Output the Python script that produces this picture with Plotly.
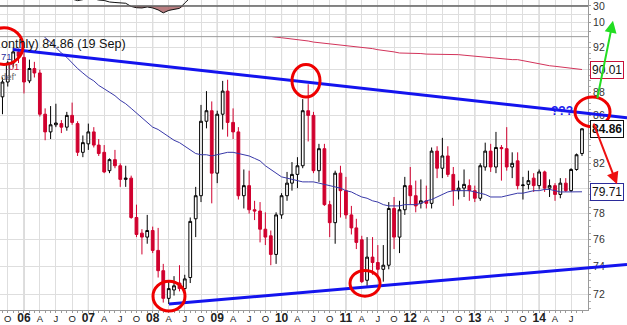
import math
import pandas as pd
import plotly.graph_objects as go

# ---------------- data (monthly candles, Sep 2005 .. Sep 2014) ----------------
months = pd.date_range("2005-09-01", "2014-09-01", freq="MS").strftime("%Y-%m-%d").tolist()

opens = [87.6, 88.9, 90.6, 91.6,
         91.1, 89.0, 90.1, 89.7, 86.1, 84.6, 85.2, 85.3, 85.0, 86.0, 85.3, 82.9,
         83.6, 84.6, 83.5, 82.9, 81.4, 82.3, 81.8, 80.7, 80.8, 77.7, 76.5, 76.2,
         76.7, 75.2, 73.7, 71.7, 72.3, 72.8, 72.4, 73.2, 77.6, 79.4, 85.5, 86.4,
         81.2, 86.1, 88.1, 85.4, 84.6, 79.4, 80.2, 78.3, 78.2, 76.8, 76.3, 74.9,
         77.9, 79.4, 80.4, 81.1, 81.8, 86.4, 86.0, 81.4, 83.2, 78.7, 77.3, 81.2,
         79.8, 77.9, 76.9, 76.0, 73.0, 74.7, 74.3, 73.8, 74.1, 78.4, 76.2, 78.3,
         80.2, 79.4, 78.8, 79.0, 78.8, 83.0, 81.6, 82.6, 81.1, 79.8, 80.0, 80.2,
         79.8, 79.2, 81.7, 83.0, 81.7, 83.3, 83.2, 81.7, 82.2, 80.2, 80.3, 80.8,
         80.2, 81.3, 80.0, 80.2, 79.5, 80.4, 79.8, 81.5, 82.8]
highs = [89.3, 90.8, 92.0, 91.9,
         91.6, 90.9, 90.7, 90.0, 86.6, 86.8, 87.0, 85.6, 86.3, 87.1, 85.5, 84.3,
         85.3, 85.0, 84.0, 83.5, 82.4, 83.1, 82.0, 81.8, 81.0, 78.7, 76.8, 77.9,
         77.0, 76.9, 74.2, 72.9, 73.3, 74.1, 73.4, 77.7, 80.1, 86.9, 88.1, 87.2,
         86.4, 89.0, 89.1, 86.6, 85.0, 81.5, 81.4, 79.0, 78.9, 78.1, 76.7, 78.1,
         79.6, 81.3, 82.1, 82.5, 87.4, 88.7, 86.3, 83.6, 83.6, 79.0, 81.4, 81.8,
         80.9, 78.6, 77.6, 76.3, 76.2, 76.2, 75.6, 75.6, 78.9, 79.3, 79.0, 80.9,
         81.7, 80.6, 80.7, 80.2, 83.3, 83.4, 84.1, 83.4, 81.7, 80.6, 81.5, 80.7,
         80.2, 82.0, 83.7, 83.6, 84.6, 83.5, 85.0, 82.9, 82.9, 80.9, 81.4, 81.2,
         81.5, 81.4, 80.7, 80.4, 80.8, 80.8, 81.6, 82.8, 84.9]
lows = [86.1, 88.5, 90.2, 90.6,
        87.9, 88.8, 89.3, 85.9, 83.9, 84.0, 85.0, 84.5, 84.7, 85.2, 82.6, 82.5,
        83.1, 83.3, 82.6, 81.2, 81.2, 81.6, 80.1, 80.1, 77.6, 76.2, 74.9, 75.7,
        75.0, 73.2, 71.4, 71.3, 71.9, 72.2, 72.1, 72.8, 76.2, 78.9, 84.9, 78.8,
        80.4, 84.8, 84.2, 84.0, 79.1, 78.4, 78.0, 77.5, 75.8, 75.6, 74.1, 74.2,
        77.6, 79.0, 79.8, 80.0, 81.6, 83.8, 81.2, 80.5, 78.6, 76.2, 75.7, 77.7,
        77.6, 76.4, 75.3, 72.8, 72.6, 73.4, 73.3, 72.9, 73.8, 75.3, 75.0, 77.9,
        78.7, 78.1, 78.4, 78.4, 78.4, 80.8, 80.8, 80.9, 78.6, 79.1, 79.3, 79.0,
        78.9, 79.0, 81.4, 81.3, 81.2, 80.6, 81.4, 80.8, 79.9, 79.1, 79.9, 79.7,
        79.9, 79.7, 79.3, 79.0, 79.2, 79.7, 79.7, 81.4, 82.6]
closes = [88.9, 90.6, 91.6, 91.2,
          88.9, 90.1, 89.7, 86.1, 84.6, 85.2, 85.35, 85.0, 86.0, 85.4, 82.9, 83.7,
          84.6, 83.5, 82.8, 81.3, 82.3, 81.8, 80.7, 80.8, 77.7, 76.4, 76.2, 76.7,
          75.2, 73.7, 71.7, 72.4, 72.6, 72.4, 73.1, 77.4, 79.4, 85.5, 86.4, 81.2,
          86.1, 88.1, 85.4, 84.6, 79.4, 80.2, 78.3, 78.2, 76.8, 76.2, 74.9, 77.9,
          79.4, 80.4, 81.1, 81.8, 86.4, 86.0, 81.4, 83.2, 78.7, 77.3, 81.2, 79.8,
          77.9, 76.9, 75.8, 72.9, 74.7, 74.3, 73.8, 74.1, 78.4, 76.2, 78.3, 80.2,
          79.4, 78.6, 79.0, 78.8, 83.0, 81.6, 82.6, 81.1, 79.8, 80.0, 80.3, 79.8,
          79.2, 81.8, 83.0, 81.7, 83.3, 83.2, 81.7, 82.0, 80.2, 80.25, 80.6, 80.2,
          81.3, 80.0, 80.2, 79.5, 80.4, 79.8, 81.5, 82.7, 84.86]

# moving average (blue), one value per month
ma_blue = [97.5, 97.0, 96.4, 95.8,
           95.2, 94.6, 94.0, 93.4, 92.9, 92.5, 92.0, 91.5, 91.1, 90.6, 90.1, 89.7,
           89.3, 89.0, 88.6, 88.3, 88.0, 87.7, 87.3, 87.0, 86.6, 86.2, 85.8, 85.4,
           85.0, 84.8, 84.5, 84.2, 83.9, 83.7, 83.4, 83.1, 82.8, 82.7, 82.7, 82.6,
           82.7, 82.8, 82.9, 82.9, 82.8, 82.7, 82.6, 82.4, 82.2, 81.8, 81.5, 81.2,
           80.9, 80.8, 80.7, 80.6, 80.5, 80.5, 80.5, 80.4, 80.3, 80.2, 80.1, 80.0,
           79.8, 79.7, 79.5, 79.3, 79.2, 79.0, 78.9, 78.7, 78.6, 78.6, 78.6, 78.7,
           78.7, 78.7, 78.8, 79.0, 79.1, 79.3, 79.5, 79.7, 79.8, 79.8, 79.8, 79.8,
           79.7, 79.6, 79.5, 79.3, 79.3, 79.3, 79.4, 79.5, 79.6, 79.6, 79.7, 79.8,
           79.8, 79.9, 79.9, 79.8, 79.7, 79.7, 79.7, 79.7, 79.71]

# long moving average (red), from Oct 2009
ma_red_start = "2009-10-01"
ma_red = [93.1, 93.0, 92.95, 92.9, 92.85, 92.8, 92.75, 92.7, 92.6, 92.5, 92.45, 92.4,
          92.35, 92.3, 92.25, 92.2, 92.15, 92.1, 92.0, 91.95, 91.9, 91.8, 91.75, 91.7,
          91.6, 91.5, 91.5, 91.5, 91.45, 91.45, 91.4, 91.4, 91.4, 91.4, 91.4, 91.4,
          91.35, 91.3, 91.25, 91.2, 91.15, 91.1, 91.05, 91.05, 91.0, 90.95, 90.9, 90.9,
          90.8, 90.7, 90.6, 90.5, 90.4, 90.35, 90.3, 90.25, 90.2, 90.1, 90.05, 90.01]

# oscillator in the top panel (visible part), from Aug 2006
osc_start = "2006-08-01"
osc = [42, 40, 37.5, 36.3, 37.5, 39, 38.5, 37, 36.5, 34.7, 34.1, 33.5, 33.2, 29.4,
       27.9, 27.6, 28.8, 27.6, 25.3, 21.8, 24.7, 25.9, 27.1, 33.5, 39.4, 46, 52]
osc_level = 30

price_ticks = [72, 74, 76, 78, 80, 82, 84, 86, 88, 90, 92]
price_ticktext = ["72", "74", "76", "78", "", "82", "", "86", "88", "", "92"]
osc_ticks = [0, 10, 20, 30]
osc_ticktext = ["", "10", "", "30"]

tags = [(90.01, "90.01", "#c8103a", False),
        (84.86, "84.86", "#111111", True),
        (79.71, "79.71", "#2b2b9a", False)]

header = "onthly) 84.86 (19 Sep)"
side_labels = [("71", 0, 57, "#2b2b9a"), (".01", 5, 67, "#c8103a"), ("def'", 0, 77, "#666666")]

# ---------------- derived helpers ----------------
i_red = months.index(ma_red_start)
i_osc = months.index(osc_start)
red_x = months[i_red:i_red + len(ma_red)]
osc_x = months[i_osc:i_osc + len(osc)]

qticks = pd.date_range("2005-10-01", "2014-07-01", freq="QS-JAN")
qvals = qticks.strftime("%Y-%m-%d").tolist()
qtext = []
for d in qticks:
    if d.month == 1:
        qtext.append("<span style='font-size:12px'><b>%02d</b></span>" % (d.year % 100))
    else:
        qtext.append({4: "A", 7: "J", 10: "O"}[d.month])
year_lines = [d for d in qvals if d.endswith("-01-01")]

minor_price = [v / 2 for v in range(142, 186)]

# plot geometry (pixels): plot area 588 x 313
PW, PH = 588.0, 313.0
SPLIT = (PH - 37) / PH


def fx(p):
    return p / PW


def fy(p):
    return (PH - p) / PH


fig = go.Figure()

fig.add_trace(go.Candlestick(
    x=months, open=opens, high=highs, low=lows, close=closes,
    increasing=dict(line=dict(color="#000000", width=1), fillcolor="#ffffff"),
    decreasing=dict(line=dict(color="#d0002e", width=1), fillcolor="#d0002e"),
    whiskerwidth=0, showlegend=False, hoverinfo="skip"))

fig.add_trace(go.Scatter(x=months, y=ma_blue, mode="lines",
                         line=dict(color="#3838a8", width=1), showlegend=False, hoverinfo="skip"))
fig.add_trace(go.Scatter(x=red_x, y=ma_red, mode="lines",
                         line=dict(color="#d2335a", width=1), showlegend=False, hoverinfo="skip"))

# oscillator panel
fig.add_trace(go.Scatter(x=osc_x, y=[osc_level] * len(osc), mode="lines", yaxis="y2",
                         line=dict(width=0, color="rgba(0,0,0,0)"), showlegend=False, hoverinfo="skip"))
fig.add_trace(go.Scatter(x=osc_x, y=[min(v, osc_level) for v in osc], mode="lines", yaxis="y2",
                         fill="tonexty", fillcolor="rgba(168,92,96,0.8)",
                         line=dict(width=0, color="rgba(0,0,0,0)"), showlegend=False, hoverinfo="skip"))
fig.add_trace(go.Scatter(x=osc_x, y=osc, mode="lines", yaxis="y2",
                         line=dict(color="#111111", width=1), showlegend=False, hoverinfo="skip"))

shapes = []
for d in year_lines:
    shapes.append(dict(type="line", xref="x", yref="paper", x0=d, x1=d, y0=0, y1=1,
                       line=dict(color="#b4b4b4", width=1), layer="below"))
shapes.append(dict(type="line", xref="paper", yref="paper", x0=0, x1=1, y0=SPLIT, y1=SPLIT,
                   line=dict(color="#9a9a9a", width=1)))
shapes.append(dict(type="line", xref="paper", yref="y2", x0=0, x1=1, y0=osc_level, y1=osc_level,
                   line=dict(color="#606060", width=1.5)))

# hand-drawn markup (pixel positions on the 627x325 canvas)
blue_lines = [((13, 50), (627, 119)), ((169, 307), (627, 267))]
for (a, b) in blue_lines:
    shapes.append(dict(type="line", xref="paper", yref="paper",
                       x0=fx(a[0]), y0=fy(a[1]), x1=fx(b[0]), y1=fy(b[1]),
                       line=dict(color="#1414ee", width=3)))
red_rings = [(-15, 28, 23, 65), (292, 65, 320, 98), (153, 284, 185, 314),
             (350, 273, 380, 299), (575, 98, 610, 128)]
for (x0, y0, x1, y1) in red_rings:
    shapes.append(dict(type="circle", xref="paper", yref="paper",
                       x0=fx(x0), x1=fx(x1), y0=fy(y1), y1=fy(y0),
                       line=dict(color="#ee0000", width=3)))

annotations = []
annotations.append(dict(xref="paper", yref="paper", x=0, y=fy(44), xanchor="left", yanchor="middle",
                        xshift=-1, text=header, showarrow=False,
                        font=dict(family="Arial", size=12.6, color="#111111")))
for txt, xl, yy, col in side_labels:
    annotations.append(dict(xref="paper", yref="paper", x=fx(xl), y=fy(yy), xanchor="left", yanchor="middle",
                            xshift=-1, text=txt, showarrow=False,
                            font=dict(family="Arial", size=9.5, color=col)))
for val, txt, col, bold in tags:
    annotations.append(dict(xref="paper", yref="y", x=1, y=math.log10(val), xanchor="left", yanchor="middle",
                            xshift=2, text=("<b>%s</b>" % txt) if bold else txt, showarrow=False,
                            bgcolor="#ffffff", bordercolor=col, borderwidth=1, borderpad=1,
                            font=dict(family="Arial", size=12, color="#111111")))
annotations.append(dict(xref="paper", yref="paper", x=fx(575), y=fy(103), text="<b>???</b>", showarrow=False,
                        font=dict(family="Arial", size=12, color="#2020ee")))
# arrows: tip position, tail offset
for tip, tail, col in [((613, 21), (597, 100), "#22dd22"), ((617, 186), (593, 124), "#ee1111")]:
    annotations.append(dict(xref="paper", yref="paper", x=fx(tip[0]), y=fy(tip[1]),
                            ax=tail[0] - tip[0], ay=tail[1] - tip[1], text="", showarrow=True,
                            arrowhead=2, arrowsize=1.2, arrowwidth=2, arrowcolor=col))

axis_font = dict(family="Liberation Sans Narrow, Arial Narrow, Arial", size=10.5, color="#333333")

fig.update_layout(
    width=627, height=325,
    margin=dict(l=0, r=39, t=0, b=12, pad=0),
    paper_bgcolor="#ffffff", plot_bgcolor="#ffffff",
    boxgap=0.2,
    hovermode=False,
    font=dict(family="Arial", color="#222222"),
    xaxis=dict(type="date", range=["2005-08-18", "2014-10-05"], anchor="y", domain=[0, 1],
               rangeslider=dict(visible=False),
               tickmode="array", tickvals=qvals, ticktext=qtext, ticks="",
               tickfont=dict(family="Arial", size=9.5, color="#222222"),
               showgrid=True, gridcolor="#dedede", gridwidth=1,
               showline=True, linecolor="#9a9a9a", linewidth=1, zeroline=False,
               minor=dict(tickvals=months, ticks="outside", ticklen=2, tickcolor="#9a9a9a", showgrid=False)),
    yaxis=dict(type="log", domain=[0, SPLIT], anchor="x", side="right",
               range=[math.log10(70.875), math.log10(93.0)],
               tickmode="array", tickvals=price_ticks, ticktext=price_ticktext,
               ticks="outside", ticklen=2, tickcolor="#9a9a9a",
               tickfont=axis_font,
               showgrid=True, gridcolor="#dedede", gridwidth=1,
               showline=True, linecolor="#9a9a9a", linewidth=1, zeroline=False,
               minor=dict(tickvals=minor_price, ticks="outside", ticklen=2, tickcolor="#b0b0b0", showgrid=False)),
    yaxis2=dict(domain=[SPLIT, 1], anchor="x", side="right", range=[-6.47, 37.06],
                tickmode="array", tickvals=osc_ticks, ticktext=osc_ticktext,
                ticks="outside", ticklen=2, tickcolor="#9a9a9a", ticklabeloverflow="allow",
                tickfont=axis_font,
                showgrid=True, gridcolor="#dedede", showline=True, linecolor="#9a9a9a", zeroline=False),
    shapes=shapes,
    annotations=annotations,
)

fig.write_html("out.html")
